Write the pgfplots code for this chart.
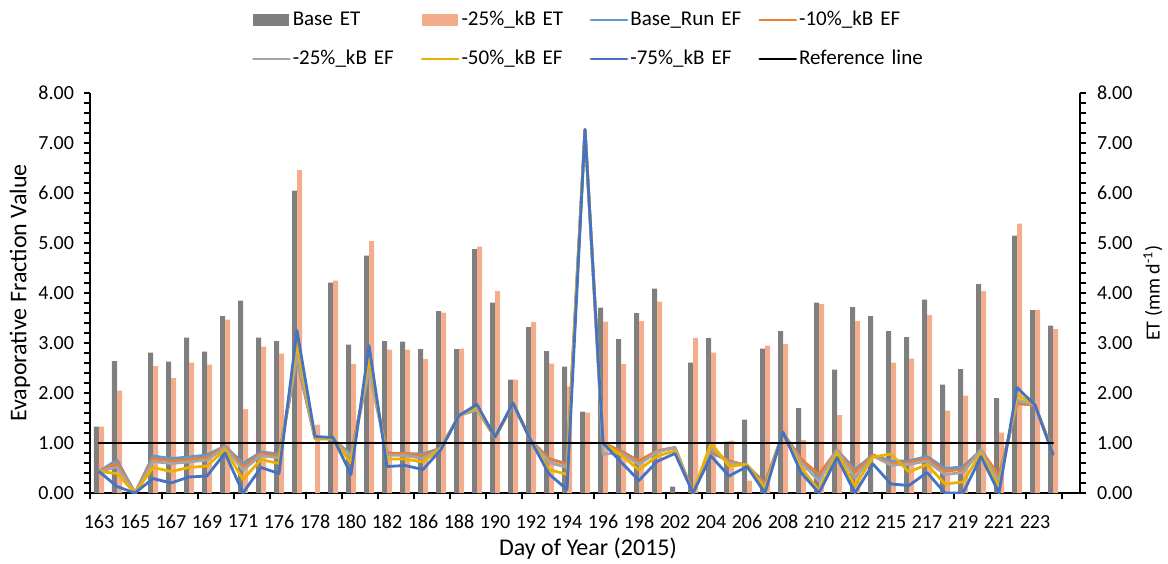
\documentclass[border=0pt]{standalone}
\usepackage{fontspec}
\setmainfont{Carlito}
\usepackage{pgfplots}
\usepackage{pgfplotstable}
\pgfplotsset{compat=1.18}

\definecolor{cGray}{RGB}{127,127,127}
\definecolor{cSalmon}{RGB}{243,172,140}
\definecolor{cBase}{RGB}{91,155,213}
\definecolor{cTen}{RGB}{237,125,49}
\definecolor{cTwf}{RGB}{165,165,165}
\definecolor{cFif}{RGB}{235,177,0}
\definecolor{cSev}{RGB}{68,114,196}

\pgfplotstableread{
x bET kET b m10 m25 m50 m75 r
0 1.33 1.33 0.43 0.43 0.43 0.43 0.43 1
1 2.64 2.05 0.66 0.60 0.52 0.39 0.13 1
2 0 0 0 0 0 0 0 1
3 2.81 2.54 0.74 0.69 0.63 0.51 0.29 1
4 2.63 2.30 0.69 0.64 0.59 0.43 0.20 1
5 3.11 2.61 0.72 0.67 0.62 0.51 0.32 1
6 2.83 2.57 0.76 0.71 0.66 0.54 0.34 1
7 3.54 3.47 0.94 0.93 0.91 0.87 0.80 1
8 3.85 1.68 0.59 0.53 0.46 0.27 0.00 1
9 3.11 2.93 0.82 0.79 0.75 0.67 0.51 1
10 3.04 2.79 0.78 0.75 0.70 0.59 0.39 1
11 6.05 6.46 2.65 2.70 2.75 3.00 3.25 1
12 0 1.37 1.09 1.09 1.09 1.10 1.13 1
13 4.21 4.25 1.08 1.08 1.08 1.09 1.11 1
14 2.97 2.58 0.77 0.74 0.72 0.60 0.37 1
15 4.75 5.04 2.50 2.55 2.45 2.70 2.95 1
16 3.04 2.87 0.80 0.79 0.76 0.68 0.53 1
17 3.03 2.87 0.79 0.79 0.75 0.68 0.55 1
18 2.88 2.68 0.78 0.75 0.69 0.62 0.47 1
19 3.64 3.61 0.90 0.90 0.90 0.89 0.87 1
20 2.88 2.89 1.55 1.55 1.55 1.55 1.55 1
21 4.88 4.93 1.68 1.68 1.66 1.72 1.77 1
22 3.81 4.04 1.11 1.11 1.11 1.11 1.12 1
23 2.27 2.27 1.78 1.78 1.78 1.79 1.80 1
24 3.32 3.42 1.05 1.05 1.05 1.04 1.04 1
25 2.84 2.59 0.69 0.68 0.61 0.47 0.38 1
26 2.53 2.13 0.58 0.57 0.51 0.37 0.07 1
27 1.63 1.61 7.27 7.27 7.27 7.27 7.27 1
28 3.71 3.43 1.00 1.00 0.78 1.00 1.00 1
29 3.08 2.58 0.84 0.83 0.80 0.76 0.62 1
30 3.60 3.44 0.64 0.64 0.57 0.46 0.25 1
31 4.09 3.83 0.84 0.84 0.82 0.74 0.63 1
32 0.13 0 0.91 0.91 0.90 0.84 0.79 1
33 2.61 3.10 0 0 0 0 0 1
34 3.10 2.81 0.81 0.84 0.91 1.00 0.74 1
35 1.03 1.05 0.64 0.64 0.60 0.54 0.34 1
36 1.47 0.25 0.55 0.55 0.55 0.57 0.53 1
37 2.89 2.95 0.20 0.18 0.12 0.08 0.00 1
38 3.24 2.98 1.20 1.20 1.20 1.20 1.22 1
39 1.70 1.06 0.68 0.68 0.61 0.51 0.41 1
40 3.81 3.78 0.33 0.37 0.24 0.05 0.00 1
41 2.47 1.56 0.86 0.86 0.86 0.80 0.71 1
42 3.72 3.44 0.47 0.42 0.30 0.14 0.00 1
43 3.54 0 0.76 0.76 0.74 0.72 0.58 1
44 3.24 2.61 0.64 0.59 0.56 0.78 0.18 1
45 3.12 2.69 0.64 0.61 0.57 0.42 0.15 1
46 3.87 3.56 0.73 0.69 0.64 0.57 0.41 1
47 2.17 1.65 0.49 0.44 0.37 0.18 0.00 1
48 2.48 1.95 0.52 0.47 0.41 0.22 0.00 1
49 4.18 4.04 0.86 0.86 0.86 0.80 0.73 1
50 1.90 1.21 0.30 0.35 0.22 0.10 0.00 1
51 5.15 5.39 1.79 1.79 1.86 1.97 2.11 1
52 3.66 3.66 1.76 1.76 1.76 1.76 1.76 1
53 3.35 3.28 0.80 0.80 0.80 0.80 0.77 1
}\data

\pgfplotsset{
  barleg/.style={legend image code/.code={\fill[##1] (0pt,-3pt) rectangle (18pt,3pt);}},
  lineleg/.style={legend image code/.code={\draw[##1] (0pt,0pt) -- (18pt,0pt);}},
  efline/.style={sharp plot, line width=1.4pt, line join=round, line cap=round},
}

\begin{document}
\begin{tikzpicture}
\useasboundingbox (-45pt,-35pt) rectangle (539pt,246.5pt);
\begin{axis}[
  at={(0pt,0pt)}, anchor=south west,
  scale only axis, width=495pt, height=200pt,
  xmin=-0.5, xmax=54.5, ymin=0, ymax=8,
  axis x line*=bottom, axis y line*=left,
  axis line style={line width=0.6pt},
  tick align=outside,
  major tick length=3pt, minor tick length=3pt,
  tick style={black, line width=0.6pt},
  xtick={0,2,...,52},
  xticklabels={163,165,167,169,171,176,178,180,182,186,188,190,192,194,196,198,202,204,206,208,210,212,215,217,219,221,223},
  xticklabel style={yshift=-4.5pt},
  major x tick style={draw=none},
  minor xtick={-0.5,1.5,...,53.5},
  ytick={0,1,...,8},
  minor y tick num=4,
  /pgf/number format/assume math mode=true,
  yticklabel style={xshift=-1.5pt, /pgf/number format/.cd, fixed, fixed zerofill, precision=2},
  ylabel={Evaporative Fraction Value},
  every axis y label/.style={at={(axis description cs:-0.0707,0.5)}, rotate=90, anchor=center, font=\fontsize{12}{14}\selectfont},
  xlabel={Day of Year (2015)},
  every axis x label/.style={at={(axis description cs:0.503,-0.14)}, anchor=center, font=\fontsize{12}{14}\selectfont},
  ybar=0pt, bar width=2.5pt,
  legend columns=4,
  legend cell align=left,
  legend style={at={(axis description cs:0.1636,1.205)}, anchor=north west,
    draw=none, fill=none, inner sep=0pt, outer sep=0pt,
    row sep=10.5pt, font=\fontsize{10.5}{12}\selectfont,
    nodes={text width=63pt, inner xsep=1pt, inner ysep=0pt, text height=7pt, text depth=2pt}},
]
\addplot[fill=cGray, draw=none, barleg] table[x=x, y=bET] {\data};
\addlegendentry{Base ET}
\addplot[fill=cSalmon, draw=none, barleg] table[x=x, y=kET] {\data};
\addlegendentry{-25\%\_kB ET}
\addplot[efline, cBase, lineleg] table[x=x, y=b] {\data};
\addlegendentry{Base\_Run EF}
\addplot[efline, cTen, lineleg] table[x=x, y=m10] {\data};
\addlegendentry{-10\%\_kB EF}
\addplot[efline, cTwf, lineleg] table[x=x, y=m25] {\data};
\addlegendentry{-25\%\_kB EF}
\addplot[efline, cFif, lineleg] table[x=x, y=m50] {\data};
\addlegendentry{-50\%\_kB EF}
\addplot[efline, cSev, lineleg] table[x=x, y=m75] {\data};
\addlegendentry{-75\%\_kB EF}
\addplot[efline, black, lineleg] table[x=x, y=r] {\data};
\addlegendentry{Reference line}
\end{axis}
\begin{axis}[
  at={(0pt,0pt)}, anchor=south west,
  scale only axis, width=495pt, height=200pt,
  xmin=-0.5, xmax=54.5, ymin=0, ymax=8,
  axis x line=none, axis y line*=right,
  axis line style={line width=0.6pt},
  tick align=outside,
  major tick length=3pt, minor tick length=3pt,
  tick style={black, line width=0.6pt},
  ytick={0,1,...,8},
  minor y tick num=4,
  /pgf/number format/assume math mode=true,
  yticklabel style={xshift=2pt, /pgf/number format/.cd, fixed, fixed zerofill, precision=2},
  ylabel={ET (mm d\textsuperscript{-1})},
  every axis y label/.style={at={(axis description cs:1.0737,0.5)}, rotate=90, anchor=center},
]
\addplot[draw=none, forget plot] coordinates {(0,0)};
\end{axis}
\end{tikzpicture}
\end{document}
